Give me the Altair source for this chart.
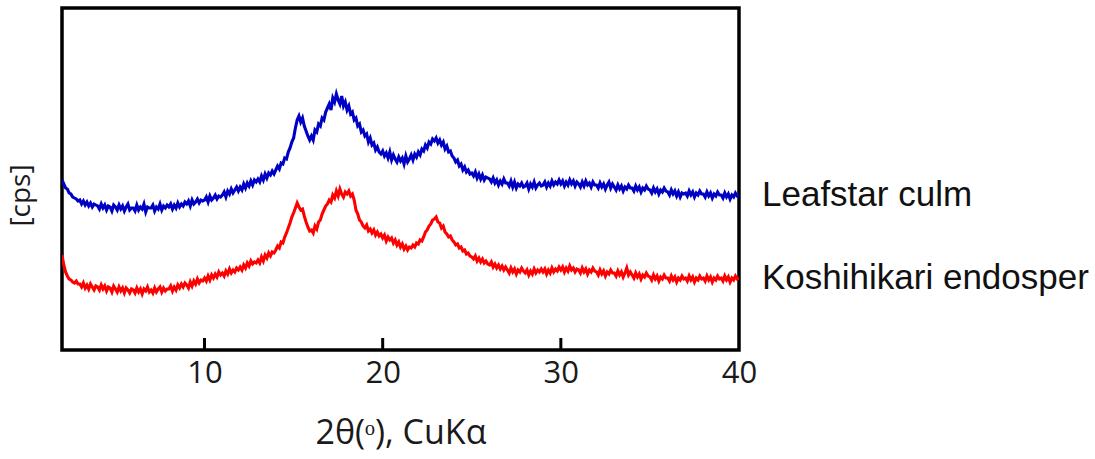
import altair as alt
import numpy as np
import pandas as pd

# 2-theta sampling grid (degrees), 0.1 degree step
two_theta = np.round(np.arange(2.0, 40.05, 0.1), 1)

# Intensity traces (arbitrary cps units), one row per degree
leafstar_culm = [
    170,166,162,161,157,156,153,152,151,149,
    150,146,149,145,148,144,147,143,146,145,
    144,141,146,142,145,140,144,143,139,145,
    143,140,145,141,144,139,143,146,140,142,
    142,139,145,140,143,141,146,138,143,142,
    142,145,139,143,141,146,140,144,142,145,
    143,146,141,145,142,147,143,146,144,148,
    146,149,144,150,146,148,151,147,150,149,
    150,153,148,154,150,152,155,151,154,153,
    155,158,153,159,156,161,157,160,163,159,
    163,160,166,162,167,164,169,165,170,168,
    171,168,174,170,176,172,177,175,179,176,
    180,184,181,187,186,192,191,198,202,208,
    212,222,230,234,228,232,224,219,214,210,
    214,210,220,218,226,224,232,230,238,242,
    246,240,252,248,256,250,246,254,244,248,
    240,244,236,238,230,232,224,226,218,220,
    214,216,208,212,205,207,200,203,198,196,
    199,194,197,192,198,190,195,191,188,193,
    189,192,186,194,188,191,195,190,196,193,
    198,195,201,199,205,202,208,206,211,209,
    212,207,210,205,208,201,204,198,199,194,
    192,188,190,184,186,180,183,178,180,176,
    177,174,178,172,176,171,175,170,173,172,
    171,168,172,167,170,165,169,166,171,167,
    167,164,169,163,168,162,166,164,167,163,
    164,167,161,166,163,168,162,165,167,164,
    165,168,163,167,164,169,165,168,166,170,
    166,169,164,168,165,170,166,169,164,168,
    166,163,168,164,169,165,167,163,168,165,
    165,162,167,163,166,161,165,168,162,166,
    163,160,165,161,164,159,163,161,165,162,
    162,159,164,160,163,158,162,160,164,161,
    160,157,162,158,161,156,160,158,162,159,
    158,155,160,156,159,154,158,153,157,156,
    157,154,159,155,158,153,157,155,159,156,
    156,153,158,154,157,152,156,154,158,155,
    155,152,157,153,156,151,155,153,157,154,
    155,
]

koshihikari_endosperm = [
    95,85,78,74,71,70,68,67,69,66,
    66,63,67,62,65,61,66,63,60,64,
    63,60,65,61,64,59,63,62,58,64,
    61,58,63,59,62,57,62,60,57,61,
    60,57,62,58,61,56,61,59,63,58,
    60,57,62,58,61,63,58,62,59,61,
    61,64,59,63,60,65,62,66,63,67,
    65,62,68,64,69,66,71,67,70,69,
    72,69,74,70,75,72,76,73,78,75,
    77,74,79,76,81,77,80,78,82,80,
    83,80,85,82,87,84,89,86,88,87,
    90,87,93,89,95,92,97,94,98,97,
    100,104,102,108,107,113,117,122,127,133,
    137,142,147,143,140,141,134,128,123,119,
    120,117,124,121,128,130,136,140,144,146,
    150,148,155,152,159,154,161,156,153,158,
    156,159,154,156,150,140,136,130,128,124,
    122,125,119,121,117,120,115,118,114,116,
    112,115,109,113,110,112,107,110,105,108,
    103,106,101,104,100,103,102,105,103,107,
    106,110,109,113,118,120,124,126,130,131,
    133,128,127,122,124,118,116,113,114,110,
    108,105,106,102,103,99,100,96,97,94,
    93,91,94,89,92,88,91,87,89,86,
    85,88,83,86,82,85,81,84,80,83,
    80,77,82,78,81,76,80,78,82,79,
    77,80,75,79,76,81,77,80,78,81,
    78,81,76,80,77,82,78,81,79,83,
    80,83,78,82,79,84,80,82,78,81,
    80,77,82,78,81,76,80,78,82,79,
    78,75,80,76,79,74,78,76,80,77,
    77,74,79,75,78,73,77,82,75,78,
    75,72,77,73,76,71,75,73,77,74,
    73,70,75,71,74,69,73,71,75,72,
    72,69,74,70,73,68,72,70,74,71,
    72,69,74,70,73,68,72,70,74,71,
    72,69,74,70,73,68,72,70,74,71,
    72,69,74,70,73,68,72,70,74,71,
    72,
]

series_names = ["Leafstar culm", "Koshihikari endosper"]
series_colors = ["#0000C4", "#FF0000"]
tick_values = [10, 20, 30, 40]
inner_ticks = [10, 20, 30]

df = pd.concat([
    pd.DataFrame({"tt": two_theta, "cps": leafstar_culm, "sample": series_names[0]}),
    pd.DataFrame({"tt": two_theta, "cps": koshihikari_endosperm, "sample": series_names[1]}),
])

labels_df = pd.DataFrame({
    "tt": [two_theta[-1], two_theta[-1]],
    "cps": [leafstar_culm[-1], koshihikari_endosperm[-1]],
    "sample": series_names,
})

x_scale = alt.Scale(domain=[2, 40], nice=False, zero=False)
y_scale = alt.Scale(domain=[0, 342], nice=False, zero=False)

x_enc = alt.X(
    "tt:Q", scale=x_scale,
    axis=alt.Axis(
        values=tick_values, ticks=False, domain=False, grid=False,
        labelFont="Open Sans", labelFontSize=31, labelColor="#1a1a1a",
        labelPadding=8, labelFlush=False,
        title="2θ(ᵒ), CuKα", titleFont="Open Sans", titleFontSize=34,
        titleFontWeight="normal", titleColor="#1a1a1a",
        titleY=83, titleBaseline="middle",
    ),
)
y_enc = alt.Y(
    "cps:Q", scale=y_scale,
    axis=alt.Axis(
        labels=False, ticks=False, domain=False, grid=False,
        title="[cps]", titleFont="Open Sans", titleFontSize=28,
        titleFontWeight="normal", titleColor="#1a1a1a",
        titleX=-41, titleY=187, titleAngle=-90,
        titleAlign="center", titleBaseline="middle",
    ),
)

lines = alt.Chart(df).mark_line(strokeWidth=3.1, clip=True).encode(
    x=x_enc,
    y=y_enc,
    color=alt.Color("sample:N", scale=alt.Scale(domain=series_names, range=series_colors), legend=None),
    detail="sample:N",
)

ticks = alt.Chart(pd.DataFrame({"tt": inner_ticks})).mark_rule(
    color="black", strokeWidth=3
).encode(
    x=alt.X("tt:Q", scale=x_scale),
    y=alt.value(342),
    y2=alt.value(330),
)

labels = alt.Chart(labels_df).mark_text(
    align="left", baseline="middle", dx=23, font="Liberation Sans",
    fontSize=35, color="#111111",
).encode(
    x=alt.X("tt:Q", scale=x_scale),
    y=alt.Y("cps:Q", scale=y_scale),
    text="sample:N",
)

chart = alt.layer(lines, ticks, labels).properties(
    width=677,
    height=342,
    autosize=alt.AutoSizeParams(type="none"),
    padding={"left": 62, "top": 8, "right": 356, "bottom": 109},
    background="white",
).configure_view(
    stroke="black", strokeWidth=3.5,
)

chart.save("out.html", embed_options={"renderer": "svg", "actions": False})
